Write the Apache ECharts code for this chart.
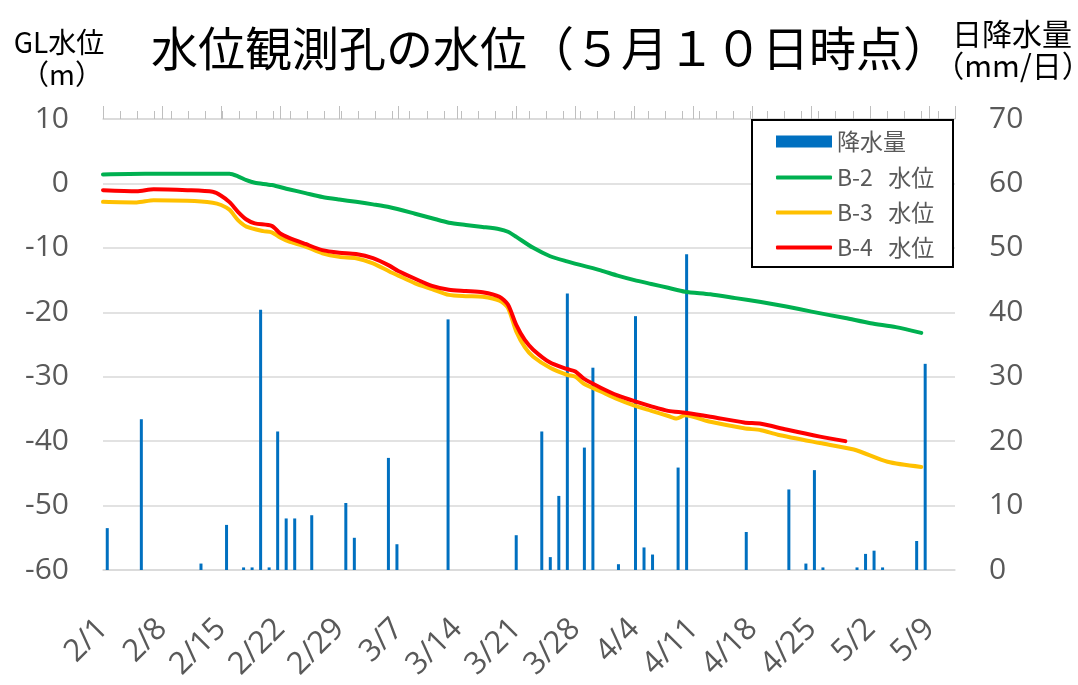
<!DOCTYPE html>
<html><head><meta charset="utf-8">
<script src="https://cdn.jsdelivr.net/npm/echarts@6/dist/echarts.min.js"></script>
<style>html,body{margin:0;padding:0;background:#fff}#c{width:1078px;height:685px}</style>
</head><body><div id="c"></div>
<script>
// bottom date tick labels (every 7 days from 2/1)
const tickLabels = ['2/1','2/8','2/15','2/22','2/29','3/7','3/14','3/21','3/28','4/4','4/11','4/18','4/25','5/2','5/9'];

// daily rainfall (mm/day): day index from 2/1, value
const rainDay = [0, 4, 11, 14, 16, 17, 18, 19, 20, 21, 22, 24, 28, 29, 33, 34, 40, 48, 51, 52, 53, 54, 56, 57, 60, 62, 63, 64, 67, 68, 75, 80, 82, 83, 84, 88, 89, 90, 91, 95, 96];
const rainMm  = [6.5, 23.4, 1.0, 7.0, 0.4, 0.4, 40.4, 0.4, 21.5, 8.0, 8.0, 8.5, 10.4, 5.0, 17.4, 4.0, 38.9, 5.4, 21.5, 2.0, 11.5, 42.9, 19.0, 31.4, 0.9, 39.4, 3.5, 2.4, 15.9, 49.0, 5.9, 12.5, 1.0, 15.5, 0.4, 0.4, 2.5, 3.0, 0.4, 4.5, 32.0];

// groundwater level GL (m): day index from 2/1, value
const b2Day   = [0, 5, 15, 16, 17, 18, 20, 22, 24, 26, 28, 30, 32, 34, 37, 39, 41, 43, 45, 47, 48, 49, 51, 53, 55, 57, 59, 61, 63, 65, 67, 69, 72, 75, 78, 81, 84, 88, 91, 94, 97];
const b2Level = [1.4, 1.5, 1.5, 1.1, 0.5, 0.1, -0.25, -0.9, -1.5, -2.1, -2.5, -2.85, -3.25, -3.7, -4.7, -5.4, -6.1, -6.45, -6.75, -7.1, -7.5, -8.3, -10.0, -11.3, -12.1, -12.8, -13.5, -14.3, -15.0, -15.6, -16.2, -16.8, -17.2, -17.8, -18.4, -19.1, -19.9, -20.9, -21.7, -22.3, -23.2];

const b3Day   = [0, 4, 6, 10, 13, 14, 15, 16, 17, 19, 20, 21, 22, 24, 26, 28, 30, 32, 34, 35, 37, 39, 41, 43, 45, 47, 48, 49, 50, 51, 53, 55, 56, 57, 59, 61, 63, 65, 67, 68, 69, 72, 76, 78, 80, 85, 89, 93, 97];
const b3Level = [-2.85, -2.95, -2.6, -2.7, -3.0, -3.35, -4.1, -5.7, -6.7, -7.4, -7.6, -8.4, -9.0, -9.8, -10.85, -11.4, -11.6, -12.4, -13.7, -14.3, -15.5, -16.4, -17.3, -17.5, -17.6, -18.2, -19.3, -23.0, -25.4, -26.9, -28.6, -29.7, -30.0, -31.1, -32.3, -33.5, -34.5, -35.3, -36.1, -36.5, -36.0, -37.0, -38.0, -38.3, -39.0, -40.3, -41.3, -43.2, -44.0];

const b4Day   = [0, 4, 6, 10, 13, 14, 15, 16, 17, 18, 20, 21, 22, 24, 26, 28, 30, 32, 34, 35, 37, 39, 41, 43, 45, 47, 48, 49, 50, 51, 53, 55, 56, 57, 59, 61, 63, 65, 67, 69, 72, 76, 78, 81, 85, 88];
const b4Level = [-1.05, -1.2, -0.9, -1.05, -1.3, -1.9, -2.9, -4.4, -5.6, -6.2, -6.6, -7.75, -8.4, -9.4, -10.35, -10.75, -10.95, -11.6, -12.8, -13.6, -14.8, -15.9, -16.5, -16.7, -16.9, -17.6, -18.8, -22.0, -24.3, -25.8, -27.8, -28.8, -29.2, -30.3, -31.7, -32.9, -33.8, -34.6, -35.3, -35.6, -36.2, -37.1, -37.3, -38.2, -39.3, -40.0];

const seriesNames = ['降水量', 'B-2   水位', 'B-3   水位', 'B-4   水位'];
const colors = ['#0070C0', '#00B050', '#FFC000', '#FF0000'];

// rainfall category axis: 100 days from 2/1 (2024)
const rainCategories = [];
for (let i = 0; i < 100; i++) {
  const d = new Date(2024, 1, 1 + i);
  rainCategories.push((d.getMonth() + 1) + '/' + d.getDate());
}
const rainData = rainCategories.map(() => null);
rainDay.forEach((d, i) => { rainData[d] = rainMm[i]; });

const zip = (a, b) => a.map((v, i) => [v, b[i]]);

const labelColor = '#595959';
const gridColor = '#D9D9D9';
const numFont = 'Open Sans';
const cjk = '"Noto Sans CJK JP", "Noto Sans", sans-serif';

const chart = echarts.init(document.getElementById('c'), null, {renderer: 'canvas'});
chart.setOption({
  animation: false,
  backgroundColor: '#fff',
  title: [
    {text: '水位観測孔の水位（５月１０日時点）', left: 146, top: 20,
     textStyle: {fontFamily: cjk, fontSize: 47, fontWeight: 'normal', color: '#000'}},
    {text: 'GL水位', left: 54, top: 23, textAlign: 'center',
     textStyle: {fontFamily: cjk, fontSize: 28, fontWeight: 'normal', color: '#000'}},
    {text: '（m）', left: 57, top: 55, textAlign: 'center',
     textStyle: {fontFamily: cjk, fontSize: 28, fontWeight: 'normal', color: '#000'}},
    {text: '日降水量', left: 1007, top: 14, textAlign: 'center',
     textStyle: {fontFamily: cjk, fontSize: 30, fontWeight: 'normal', color: '#000'}},
    {text: '（mm/日）', left: 1008, top: 46, textAlign: 'center',
     textStyle: {fontFamily: cjk, fontSize: 30, fontWeight: 'normal', color: '#000'}}
  ],
  graphic: [
    {type: 'rect', z: 3, shape: {x: 752, y: 120, width: 201, height: 147},
     style: {fill: '#fff', stroke: '#000', lineWidth: 2}}
  ],
  legend: [
    {data: [seriesNames[0]], left: 776, top: 130, orient: 'vertical', z: 5, padding: 0,
     itemWidth: 56, itemHeight: 12, icon: 'rect',
     textStyle: {fontFamily: cjk, fontSize: 23, color: labelColor}},
    {data: seriesNames.slice(1), left: 776, top: 166, orient: 'vertical', z: 5, padding: 0,
     itemWidth: 56, itemHeight: 4, itemGap: 12, icon: 'roundRect',
     textStyle: {fontFamily: cjk, fontSize: 23, color: labelColor}}
  ],
  grid: {left: 103, right: 123, top: 119, bottom: 115, outerBoundsMode: 'none', containLabel: false},
  xAxis: [
    {type: 'value', position: 'bottom', min: 0, max: 101, interval: 7,
     axisLine: {show: true, onZero: false, lineStyle: {color: gridColor, width: 1.5}},
     axisTick: {show: false}, splitLine: {show: false},
     showMaxLabel: false,
     axisLabel: {rotate: 45, margin: 54, fontFamily: numFont, fontSize: 31, color: labelColor,
       formatter: v => (v % 7 === 0 && v / 7 < tickLabels.length) ? tickLabels[v / 7] : ''}},
    {type: 'category', position: 'top', data: rainCategories, boundaryGap: true,
     axisLine: {show: true, onZero: false, lineStyle: {color: gridColor, width: 1.5}},
     axisTick: {show: true, interval: 1, length: 8, lineStyle: {color: '#BFBFBF'}},
     axisLabel: {show: false}, splitLine: {show: false}},
    {type: 'value', position: 'top', min: 0, max: 101, interval: 7,
     axisLine: {show: false, onZero: false},
     axisTick: {show: true, length: 13, lineStyle: {color: '#BFBFBF'}},
     axisLabel: {show: false}, splitLine: {show: false}}
  ],
  yAxis: [
    {type: 'value', position: 'left', min: -60, max: 10, interval: 10,
     axisLine: {show: false}, axisTick: {show: false},
     splitLine: {show: true, lineStyle: {color: gridColor, width: 1.5}},
     axisLabel: {margin: 34, fontFamily: numFont, fontSize: 30, color: labelColor}},
    {type: 'value', position: 'right', min: 0, max: 70, interval: 10,
     axisLine: {show: false}, axisTick: {show: false}, splitLine: {show: false},
     axisLabel: {margin: 34, fontFamily: numFont, fontSize: 30, color: labelColor}}
  ],
  series: [
    {name: seriesNames[1], type: 'line', xAxisIndex: 0, yAxisIndex: 0, data: zip(b2Day, b2Level),
     showSymbol: false, symbol: 'none', smooth: 0.25, color: colors[1],
     lineStyle: {width: 4, color: colors[1], cap: 'round', join: 'round'}},
    {name: seriesNames[2], type: 'line', xAxisIndex: 0, yAxisIndex: 0, data: zip(b3Day, b3Level),
     showSymbol: false, symbol: 'none', smooth: 0.25, color: colors[2],
     lineStyle: {width: 4, color: colors[2], cap: 'round', join: 'round'}},
    {name: seriesNames[3], type: 'line', xAxisIndex: 0, yAxisIndex: 0, data: zip(b4Day, b4Level),
     showSymbol: false, symbol: 'none', smooth: 0.25, color: colors[3],
     lineStyle: {width: 4, color: colors[3], cap: 'round', join: 'round'}},
    {name: seriesNames[0], type: 'bar', xAxisIndex: 1, yAxisIndex: 1, data: rainData,
     barWidth: 3, color: colors[0], itemStyle: {color: colors[0]}}
  ]
});
</script></body></html>
